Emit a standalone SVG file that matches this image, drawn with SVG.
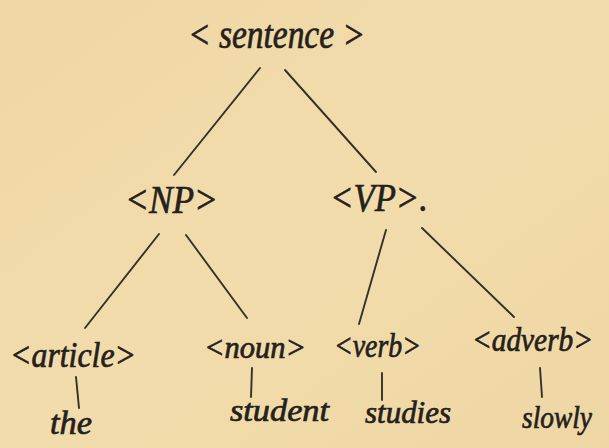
<svg xmlns="http://www.w3.org/2000/svg" width="609" height="448" viewBox="0 0 609 448">
  <style>
    .lbl { font-family: "Liberation Serif", "DejaVu Serif", serif; font-style: italic; fill: #24211d; stroke: #24211d; stroke-width: 0.7; }
    .edge { stroke: #35302a; stroke-width: 1.9; stroke-linecap: round; fill: none; }
  </style>
  <defs>
    <linearGradient id="paper" x1="0" y1="0" x2="1" y2="1">
      <stop offset="0" stop-color="#efd7a5"/>
      <stop offset="0.5" stop-color="#f2dcab"/>
      <stop offset="1" stop-color="#eed7a4"/>
    </linearGradient>
  </defs>

  <!-- paper background -->
  <rect x="0" y="0" width="609" height="448" fill="url(#paper)"/>

  <!-- tree branches -->
  <g id="connectors">
    <line class="edge" x1="260" y1="68" x2="174" y2="175"/>
    <line class="edge" x1="285" y1="70" x2="376" y2="172"/>
    <line class="edge" x1="159" y1="234" x2="85" y2="328"/>
    <line class="edge" x1="186" y1="235" x2="247" y2="318"/>
    <line class="edge" x1="386" y1="230" x2="359" y2="324"/>
    <line class="edge" x1="422" y1="228" x2="514" y2="317"/>
    <line class="edge" x1="76" y1="377" x2="79" y2="408"/>
    <line class="edge" x1="252" y1="368" x2="251" y2="397"/>
    <line class="edge" x1="382" y1="373" x2="382" y2="400"/>
    <line class="edge" x1="540" y1="368" x2="542" y2="397"/>
  </g>

  <g id="sentence">
    <text class="lbl" x="188" y="48" font-size="40" textLength="177" lengthAdjust="spacingAndGlyphs">&lt; sentence &gt;</text>
  </g>
  <g id="np">
    <text class="lbl" x="125" y="213" font-size="40" textLength="93" lengthAdjust="spacingAndGlyphs">&lt;NP&gt;</text>
  </g>
  <g id="vp">
    <text class="lbl" x="330" y="211" font-size="40" textLength="98" lengthAdjust="spacingAndGlyphs">&lt;VP&gt;.</text>
  </g>
  <g id="article">
    <text class="lbl" x="10" y="367" font-size="36" textLength="126" lengthAdjust="spacingAndGlyphs">&lt;article&gt;</text>
  </g>
  <g id="noun">
    <text class="lbl" x="204" y="358" font-size="31" textLength="102" lengthAdjust="spacingAndGlyphs">&lt;noun&gt;</text>
  </g>
  <g id="verb">
    <text class="lbl" x="334" y="357" font-size="33" textLength="87" lengthAdjust="spacingAndGlyphs">&lt;verb&gt;</text>
  </g>
  <g id="adverb">
    <text class="lbl" x="472" y="351" font-size="33" textLength="121" lengthAdjust="spacingAndGlyphs">&lt;adverb&gt;</text>
  </g>
  <g id="the">
    <text class="lbl" x="50" y="434" font-size="34" textLength="42" lengthAdjust="spacingAndGlyphs">the</text>
  </g>
  <g id="student">
    <text class="lbl" x="230" y="421" font-size="32" textLength="99" lengthAdjust="spacingAndGlyphs">student</text>
  </g>
  <g id="studies">
    <text class="lbl" x="365" y="423" font-size="32" textLength="86" lengthAdjust="spacingAndGlyphs">studies</text>
  </g>
  <g id="slowly">
    <text class="lbl" x="522" y="428" font-size="32" textLength="70" lengthAdjust="spacingAndGlyphs">slowly</text>
  </g>
</svg>
